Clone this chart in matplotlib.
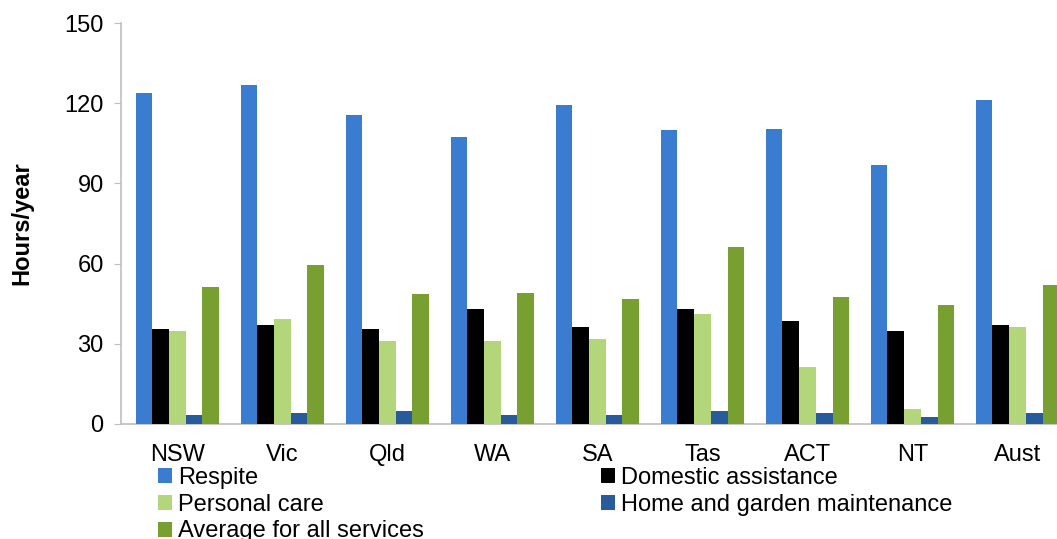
import matplotlib.pyplot as plt
import numpy as np

plt.rcParams['font.family'] = ['Liberation Sans', 'DejaVu Sans']

# ------------------- DATA -------------------
states = ["NSW", "Vic", "Qld", "WA", "SA", "Tas", "ACT", "NT", "Aust"]
respite = [124.1, 127.1, 115.7, 107.6, 119.6, 109.9, 110.6, 97.1, 121.2]
domestic = [35.6, 37.0, 35.6, 42.9, 36.3, 43.1, 38.5, 34.8, 37.1]
personal = [34.7, 39.3, 31.0, 31.0, 31.8, 41.0, 21.2, 5.6, 36.3]
home_garden = [3.2, 4.0, 4.8, 3.2, 3.2, 4.8, 4.0, 2.6, 4.0]
average = [51.3, 59.6, 48.4, 49.1, 46.8, 66.3, 47.6, 44.6, 52.1]
y_ticks = [0, 30, 60, 90, 120, 150]

series = [
    ("Respite", respite, "#3a7dd0"),
    ("Domestic assistance", domestic, "#000000"),
    ("Personal care", personal, "#b3d67a"),
    ("Home and garden maintenance", home_garden, "#285b9c"),
    ("Average for all services", average, "#78a030"),
]

fig = plt.figure(figsize=(10.57, 5.39), dpi=100)
# axes runs a bit past the right edge, like the original
ax = fig.add_axes([121 / 1057, 1 - 423.5 / 539, 949 / 1057, 400 / 539])

x = np.arange(len(states))
bw = 0.159
handles = {}
for i, (name, vals, col) in enumerate(series):
    b = ax.bar(x + (i - 2) * bw, vals, width=bw, color=col, label=name, zorder=3)
    handles[name] = b

ax.set_xlim(-0.537, 8.5)
ax.set_ylim(0, 150)
ax.set_yticks(y_ticks)
ax.set_xticks(x)
ax.set_xticklabels(states, fontsize=17)
ax.tick_params(axis='y', labelsize=17, length=5, color='#bfbfbf', pad=7.5)
ax.tick_params(axis='x', length=0, pad=15)
for s in ['top', 'right']:
    ax.spines[s].set_visible(False)
ax.spines['left'].set_color('#bfbfbf')
ax.spines['bottom'].set_color('#bfbfbf')
ax.spines['left'].set_linewidth(1.2)
ax.spines['bottom'].set_linewidth(1.2)
ax.set_ylabel("Hours/year", fontsize=17, fontweight='bold', labelpad=22)

order = ["Respite", "Personal care", "Average for all services",
         "Domestic assistance", "Home and garden maintenance"]
fig.legend([handles[n] for n in order], order, ncol=2, frameon=False,
           fontsize=17, loc='upper left', bbox_to_anchor=(158 / 1057, 1 - 467 / 539),
           handlelength=0.6, handleheight=0.6, handletextpad=0.25,
           labelspacing=0.2, columnspacing=7.5, borderaxespad=0, borderpad=0)

fig.savefig("out.png", dpi=100)
